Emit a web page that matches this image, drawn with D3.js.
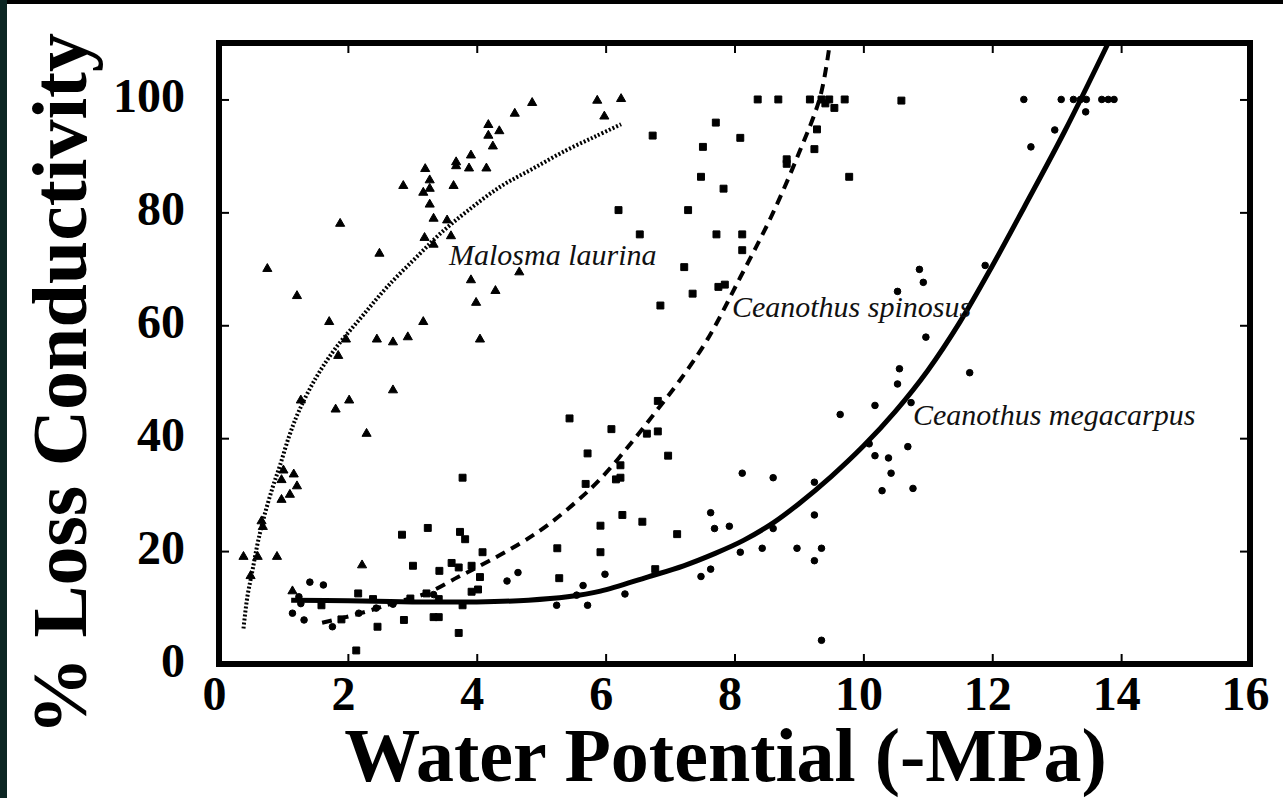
<!DOCTYPE html>
<html>
<head>
<meta charset="utf-8">
<script src="https://cdn.jsdelivr.net/npm/d3@7"></script>
<style>
  body { margin: 0; background: #fff; }
  svg { display: block; }
</style>
</head>
<body>
<div id="chart"></div>
<script>
// ---- data ----
var xTicks = [0, 2, 4, 6, 8, 10, 12, 14, 16];
var yTicks = [0, 20, 40, 60, 80, 100];

// Malosma laurina (triangles)
var malosmaPts = [
  [0.75,70.0],[1.21,65.2],[1.71,60.6],[1.97,57.5],[1.88,78.0],[2.49,72.7],[2.45,57.5],[2.70,57.0],
  [2.93,57.9],[2.86,84.7],[3.17,60.6],[3.20,87.7],[3.27,85.7],[3.27,84.2],[3.17,83.5],[3.27,81.4],
  [3.33,78.9],[3.19,75.5],[3.33,74.3],[3.54,78.6],[3.60,75.8],[3.64,84.7],[3.68,88.9],[3.68,88.2],
  [3.91,90.1],[3.88,87.8],[4.15,87.8],[4.18,95.5],[4.18,93.6],[4.35,94.4],[4.25,91.7],[4.59,97.5],
  [4.86,99.4],[5.87,99.8],[6.24,100.1],[5.98,97.0],[3.91,68.0],[3.99,64.0],[4.29,66.1],[4.66,69.4],
  [4.05,57.5],[1.27,46.7],[1.81,45.1],[2.02,46.7],[2.70,48.5],[2.29,40.8],[1.85,54.6],[1.00,34.3],
  [1.16,33.6],[0.97,32.6],[1.21,31.5],[1.10,30.0],[0.97,29.1],[0.66,25.3],[0.68,24.3],[0.38,19.0],
  [0.60,19.0],[0.90,19.0],[0.49,15.6],[2.22,17.5],[1.14,12.9]
];

// Ceanothus spinosus (squares)
var spinosusPts = [
  [5.44,43.5],[6.09,41.6],[5.72,37.3],[6.23,35.2],[5.69,31.9],[6.16,32.7],[6.23,33.0],[6.64,40.8],
  [3.78,33.0],[2.84,22.9],[3.24,24.1],[3.74,23.4],[3.82,22.1],[6.26,26.4],[6.57,25.2],[5.92,24.5],
  [5.92,19.8],[5.25,20.5],[5.28,15.2],[4.09,19.8],[3.01,17.4],[3.42,16.5],[3.61,17.9],[3.72,17.1],
  [3.92,17.4],[4.05,15.4],[3.92,12.8],[4.02,13.2],[2.16,12.5],[1.59,10.4],[1.90,7.9],[2.46,6.6],
  [2.87,7.8],[3.33,8.3],[3.41,8.3],[3.72,5.5],[3.78,10.4],[2.13,2.4],[2.39,11.5],[2.97,11.6],
  [3.22,12.5],[3.41,11.5],[8.36,100],[8.68,100],[9.17,100],[9.35,100],[9.47,100],[9.41,99.3],
  [9.55,98.5],[9.71,100],[10.59,99.8],[7.71,95.9],[6.73,93.6],[8.09,93.2],[7.51,91.6],[9.28,94.7],
  [9.24,91.2],[8.81,89.4],[8.81,88.6],[7.48,86.3],[7.83,84.2],[9.78,86.3],[6.20,80.4],[7.28,80.4],
  [6.53,76.1],[7.72,76.1],[8.12,76.1],[8.12,73.3],[7.22,70.3],[7.35,65.6],[7.75,66.8],[7.85,67.2],
  [6.85,63.5],[6.81,46.6],[6.81,41.2],[6.97,36.9],[7.11,23.0],[6.77,16.8]
];

// Ceanothus megacarpus (circles)
var megacarpusPts = [
  [1.14,9.0],[1.32,7.8],[1.41,14.5],[1.62,14.0],[1.76,6.6],[1.27,10.7],[1.24,11.9],[2.17,9.0],
  [2.44,9.9],[2.70,10.6],[4.47,14.7],[4.64,16.2],[5.24,10.4],[5.72,10.4],[5.65,13.9],[5.55,12.2],
  [5.99,15.9],[6.30,12.4],[3.33,12.3],[10.87,69.9],[10.93,67.6],[10.53,66.0],[10.97,57.9],
  [10.56,52.3],[10.53,49.6],[10.74,46.3],[9.64,44.2],[10.18,45.8],[10.69,38.5],[10.18,36.9],
  [10.39,36.5],[10.43,33.8],[10.29,30.7],[10.77,31.1],[8.12,33.8],[8.60,33.0],[9.24,32.2],
  [9.24,26.4],[10.09,39.0],[7.63,26.8],[7.69,24.0],[7.92,24.4],[8.60,24.0],[8.09,19.8],[8.43,20.5],
  [8.97,20.5],[9.35,20.5],[9.24,18.3],[7.48,15.5],[7.63,16.8],[9.35,4.2],[12.49,100],[13.07,100],
  [13.26,100],[13.37,100],[13.46,100],[13.70,100],[13.80,100],[13.89,100],[13.45,97.8],[12.97,94.6],
  [12.60,91.6],[11.89,70.6],[11.65,51.6]
];

// fitted curves
var malosmaCurve = [
  [0.38,6.3],[0.44,11.9],[0.52,16.6],[0.60,21.4],[0.70,26.1],[0.83,31.2],[0.95,35.3],[1.09,40.4],
  [1.24,44.8],[1.50,50.6],[1.80,55.8],[2.20,61.3],[2.61,66.8],[3.12,72.7],[3.43,76.2],[3.85,80.2],
  [4.36,84.5],[4.88,87.8],[5.39,91.0],[5.85,93.5],[6.24,95.6]
];
var spinosusCurve = [
  [1.60,7.3],[2.20,9.0],[2.71,10.8],[3.24,12.6],[3.71,15.4],[4.02,17.2],[4.68,21.4],[5.10,24.6],
  [5.57,29.0],[5.92,32.8],[6.43,39.6],[6.80,45.0],[7.13,49.9],[7.58,57.5],[8.09,68.5],[8.56,79.0],
  [9.00,90.5],[9.33,100.5],[9.48,110]
];
var megacarpusCurve = [
  [1.12,11.3],[2.00,11.2],[3.00,11.0],[4.00,11.0],[4.80,11.3],[5.41,11.9],[5.92,12.9],[6.65,15.4],
  [7.21,17.4],[7.70,19.6],[8.14,21.9],[8.60,25.0],[9.00,28.4],[9.50,33.2],[10.00,38.6],[10.50,44.8],
  [11.00,52.0],[11.50,60.6],[12.00,70.5],[12.50,81.0],[13.13,94.5],[13.80,110]
];

var speciesNames = ["Malosma laurina", "Ceanothus spinosus", "Ceanothus megacarpus"];

// ---- layout ----
var W = 1283, H = 798;
var mLeft = 219, mRight = 1250, mTop = 43, mBottom = 664;

var svg = d3.select("#chart").append("svg")
    .attr("width", W)
    .attr("height", H);

svg.append("rect").attr("width", W).attr("height", H).attr("fill", "#fff");
// dark edges of the original scan
svg.append("rect").attr("x", 0).attr("y", 0).attr("width", W).attr("height", 4).attr("fill", "#000");
svg.append("rect").attr("x", 0).attr("y", 0).attr("width", 7).attr("height", H).attr("fill", "#0c2623");

var x = d3.scaleLinear().domain([0, 16]).range([mLeft, mRight]);
var y = d3.scaleLinear().domain([0, 110]).range([mBottom, mTop]);

var serif = "'Liberation Serif', 'Times New Roman', Times, serif";

// axes, ticks pointing inward
var gx = svg.append("g")
    .attr("transform", "translate(0," + mBottom + ")")
    .call(d3.axisBottom(x).tickValues(xTicks).tickSize(-10).tickPadding(12).tickFormat(d3.format("d")));
var gy = svg.append("g")
    .attr("transform", "translate(" + mLeft + ",0)")
    .call(d3.axisLeft(y).tickValues(yTicks).tickSize(-10).tickPadding(34).tickFormat(d3.format("d")));
var gt = svg.append("g")
    .attr("transform", "translate(0," + mTop + ")")
    .call(d3.axisTop(x).tickValues(xTicks.slice(1, -1)).tickSize(-10).tickFormat(""));
var gr = svg.append("g")
    .attr("transform", "translate(" + mRight + ",0)")
    .call(d3.axisRight(y).tickValues(yTicks.slice(1)).tickSize(-10).tickFormat(""));

[gx, gy, gt, gr].forEach(function(g) {
  g.select(".domain").remove();
  g.selectAll(".tick line").attr("stroke", "#000").attr("stroke-width", 2);
  g.selectAll(".tick text")
    .attr("fill", "#000")
    .style("font-family", serif)
    .style("font-weight", "bold")
    .style("font-size", "48px");
});
gx.selectAll(".tick text").attr("dx", -5);
gy.selectAll(".tick text").attr("dy", "0.25em");
gy.selectAll(".tick line").filter(function(d) { return d === 0; }).remove();
gx.selectAll(".tick line").filter(function(d) { return d === 0 || d === 16; }).remove();

// frame
svg.append("rect")
    .attr("x", mLeft).attr("y", mTop)
    .attr("width", mRight - mLeft).attr("height", mBottom - mTop)
    .attr("fill", "none")
    .attr("stroke", "#000")
    .attr("stroke-width", 6);

// curves
var line = d3.line()
    .x(function(d) { return x(d[0]); })
    .y(function(d) { return y(d[1]); })
    .curve(d3.curveCatmullRom);

svg.append("path").datum(malosmaCurve)
    .attr("fill", "none").attr("stroke", "#000")
    .attr("stroke-width", 4).attr("stroke-dasharray", "2,2")
    .attr("d", line);
svg.append("path").datum(spinosusCurve)
    .attr("fill", "none").attr("stroke", "#000")
    .attr("stroke-width", 4).attr("stroke-dasharray", "10,7")
    .attr("d", line);
svg.append("path").datum(megacarpusCurve)
    .attr("fill", "none").attr("stroke", "#000")
    .attr("stroke-width", 5)
    .attr("d", line);

// points
function drawPts(pts, type, size) {
  svg.append("g").selectAll("path")
    .data(pts)
    .enter()
    .append("path")
    .attr("transform", function(d) { return "translate(" + x(d[0]) + "," + y(d[1]) + ")"; })
    .attr("d", d3.symbol().type(type).size(size))
    .attr("fill", "#000")
    .attr("stroke", "#000")
    .attr("stroke-width", 1);
}
drawPts(malosmaPts, d3.symbolTriangle, 36);
drawPts(spinosusPts, d3.symbolSquare, 48);
drawPts(megacarpusPts, d3.symbolCircle, 34);

// species labels
var labelAt = [[3.57, 70.7], [7.96, 61.5], [10.77, 42.3]];
svg.append("g").selectAll("text")
    .data(speciesNames)
    .enter()
    .append("text")
    .attr("x", function(d, i) { return x(labelAt[i][0]); })
    .attr("y", function(d, i) { return y(labelAt[i][1]); })
    .style("font-family", serif)
    .style("font-style", "italic")
    .style("font-size", "30px")
    .attr("fill", "#111")
    .text(function(d) { return d; });

// axis titles
svg.append("text")
    .attr("x", (mLeft + mRight) / 2 - 9)
    .attr("y", 781)
    .attr("text-anchor", "middle")
    .style("font-family", serif)
    .style("font-weight", "bold")
    .style("font-size", "76px")
    .text("Water Potential (-MPa)");

svg.append("text")
    .attr("transform", "translate(86,384) rotate(-90)")
    .attr("text-anchor", "middle")
    .style("font-family", serif)
    .style("font-weight", "bold")
    .style("font-size", "78px")
    .text("% Loss Conductivity");
</script>
</body>
</html>
